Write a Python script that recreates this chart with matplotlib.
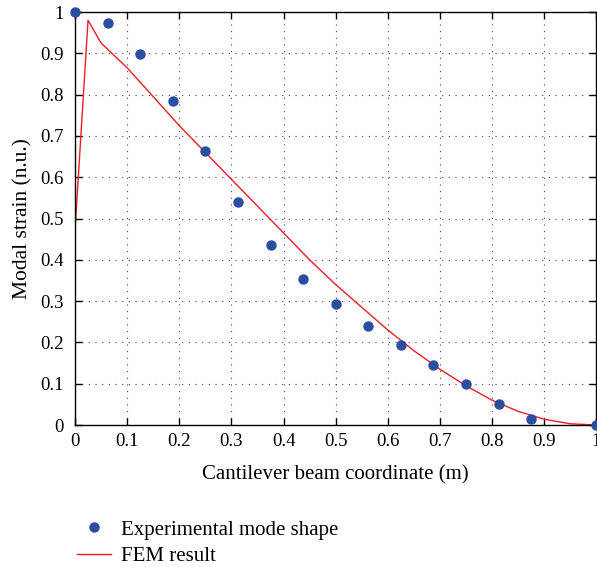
import numpy as np
import matplotlib.pyplot as plt

# Experimental mode shape (sensor positions along the beam)
exp_x = [0.0, 0.0625, 0.125, 0.1875, 0.25, 0.3125, 0.375, 0.4375, 0.5,
         0.5625, 0.625, 0.6875, 0.75, 0.8125, 0.875, 1.0]
exp_y = [1.0, 0.973, 0.898, 0.785, 0.663, 0.54, 0.436, 0.354, 0.293,
         0.24, 0.194, 0.145, 0.099, 0.051, 0.015, 0.0]

# FEM result
fem_x = [0.0, 0.025, 0.05, 0.1, 0.15, 0.2, 0.25, 0.3, 0.35, 0.4, 0.45, 0.5,
         0.55, 0.6, 0.65, 0.7, 0.75, 0.8, 0.85, 0.9, 0.95, 1.0]
fem_y = [0.47, 0.98, 0.925, 0.865, 0.795, 0.725, 0.66, 0.595, 0.53, 0.465,
         0.40, 0.34, 0.285, 0.23, 0.18, 0.135, 0.095, 0.06, 0.033, 0.014,
         0.003, 0.0]

ticks = np.round(np.arange(0, 1.01, 0.1), 1)
tick_labels = ['0', '0.1', '0.2', '0.3', '0.4', '0.5', '0.6', '0.7', '0.8', '0.9', '1']

plt.rcParams['font.family'] = ['Liberation Serif', 'DejaVu Serif']

fig = plt.figure(figsize=(5.97, 5.67), dpi=100)
ax = fig.add_axes([0.1256, 0.2504, 0.8734, 0.7284])

ax.plot(exp_x, exp_y, 'o', color='#2b4ea0', ms=6.5, mec='#2b4ea0',
        label='Experimental mode shape', zorder=3, clip_on=False)
ax.plot(fem_x, fem_y, '-', color='#ee1c25', lw=1.0, label='FEM result', zorder=2)

ax.set_xlim(0, 1)
ax.set_ylim(0, 1)
ax.set_xticks(ticks)
ax.set_xticklabels(tick_labels)
ax.set_yticks(ticks)
ax.set_yticklabels(tick_labels)
ax.tick_params(direction='in', top=True, right=True, length=5, width=1,
               labelsize=13.5)
ax.tick_params(axis='y', pad=8)
ax.tick_params(axis='x', pad=6)
ax.grid(True, linestyle=(0, (1, 5)), color='#444444', lw=0.8)
for s in ax.spines.values():
    s.set_linewidth(1.0)

ax.set_xlabel('Cantilever beam coordinate (m)', fontsize=15, labelpad=11)
ax.set_ylabel('Modal strain (n.u.)', fontsize=15.5, labelpad=6)

fig.legend(loc='upper left', bbox_to_anchor=(77 / 597, 1 - 520 / 567),
           frameon=False, fontsize=15, handlelength=1.65, handletextpad=0.45,
           labelspacing=0.35, borderpad=0, borderaxespad=0)

fig.savefig('out.png', dpi=100)
